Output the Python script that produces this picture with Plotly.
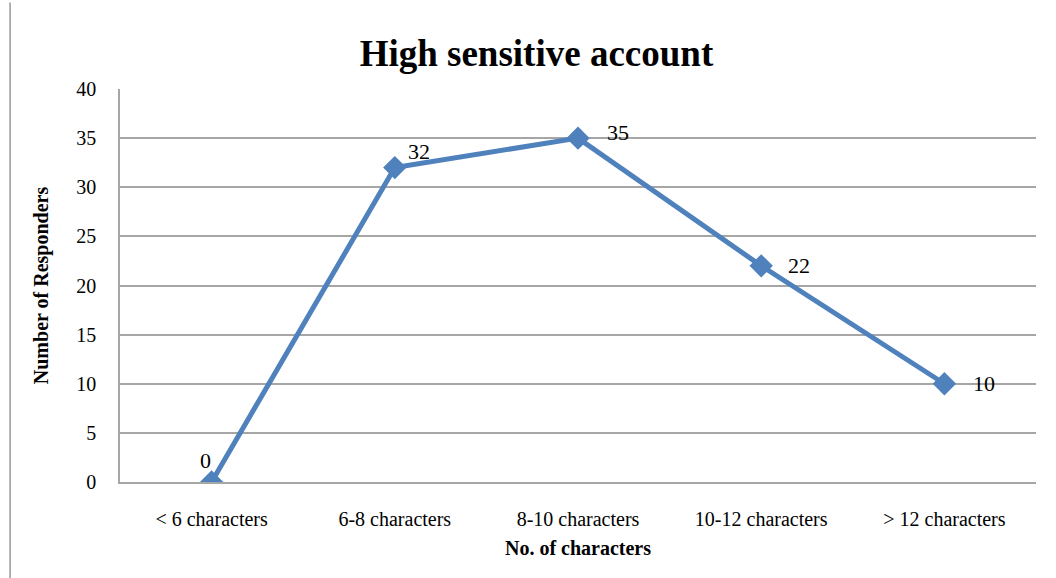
import plotly.graph_objects as go

categories = ["< 6 characters", "6-8 characters", "8-10 characters", "10-12 characters", "> 12 characters"]
responders = [0, 32, 35, 22, 10]
y_ticks = [0, 5, 10, 15, 20, 25, 30, 35, 40]

# per-point label offsets (pixels)
label_shift = [(-6, 22), (24, 16), (40, 6), (38, 0), (40, 0)]

blue = "#4F81BD"
grid = "#A6A6A6"
serif = "Liberation Serif, Times New Roman, serif"

fig = go.Figure()
fig.add_trace(go.Scatter(
    x=list(range(len(categories))), y=responders, mode="lines+markers",
    line=dict(color=blue, width=5),
    marker=dict(symbol="diamond", size=18, color=blue),
    showlegend=False, hoverinfo="skip",
))

for i, (val, (dx, dy)) in enumerate(zip(responders, label_shift)):
    fig.add_annotation(x=i, y=val, text=str(val), showarrow=False,
                       xshift=dx, yshift=dy,
                       font=dict(family=serif, size=22, color="#000"))

fig.add_shape(type="line", xref="paper", yref="paper",
              x0=-0.12, x1=-0.12, y0=-0.25, y1=1.22,
              line=dict(color="#999999", width=1.5))

fig.update_layout(
    width=1056, height=578,
    margin=dict(l=120, r=20, t=89, b=96),
    paper_bgcolor="white", plot_bgcolor="white",
    font=dict(family=serif, size=20, color="#000"),
    title=dict(text="<b>High sensitive account</b>", x=0.508, xanchor="center",
               y=0.908, yanchor="middle",
               font=dict(family=serif, size=37, color="#000")),
    xaxis=dict(range=[-0.5, len(categories) - 0.5],
               tickvals=list(range(len(categories))), ticktext=categories,
               showgrid=False, showline=True, zeroline=False,
               linecolor=grid, linewidth=1.5, ticks="", ticklabelstandoff=18,
               tickfont=dict(family=serif, size=20),
               title=dict(text="<b>No. of characters</b>", standoff=12,
                          font=dict(family=serif, size=20))),
    yaxis=dict(range=[0, 40], tickvals=y_ticks, showgrid=True,
               gridcolor=grid, gridwidth=1.5, showline=True,
               linecolor=grid, linewidth=1.5, zeroline=False, ticks="",
               ticklabelstandoff=18,
               tickfont=dict(family=serif, size=20),
               title=dict(text="<b>Number of Responders</b>", standoff=22,
                          font=dict(family=serif, size=20))),
)

fig.write_html("out.html")
